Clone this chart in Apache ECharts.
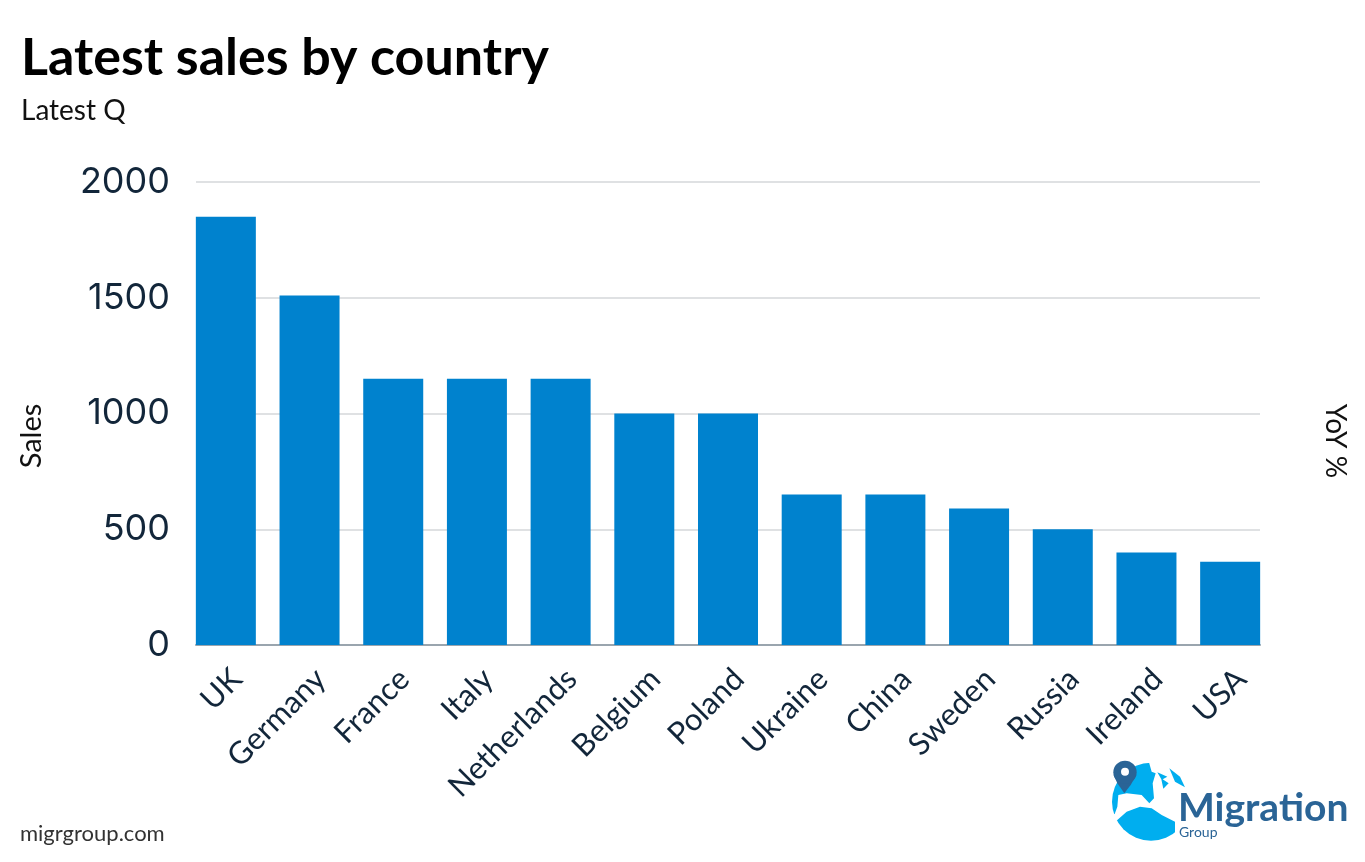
<!DOCTYPE html>
<html>
<head>
    <meta charset="utf-8">
    <title>Latest sales by country</title>
    <script src="https://cdn.jsdelivr.net/npm/echarts@6/dist/echarts.min.js"></script>
    <style>
        html, body { margin: 0; padding: 0; background: #fff; }
        #main { width: 1365px; height: 862px; }
    </style>
</head>
<body>
<div id="main"></div>
<script type="text/javascript">
    var countries = ['UK', 'Germany', 'France', 'Italy', 'Netherlands', 'Belgium', 'Poland', 'Ukraine', 'China', 'Sweden', 'Russia', 'Ireland', 'USA'];
    var sales = [1850, 1510, 1150, 1150, 1150, 1000, 1000, 650, 650, 590, 500, 400, 360];
    var salesTicks = { min: 0, max: 2000, interval: 500 };

    var labelFont = 'Lato';
    var inkColor = '#12263a';
    var logoDark = '#2a6496';
    var logoLight = '#00aeef';

    // logo outlines were traced on a 3x crop whose corner is at (1080,740)
    function logoPts(list) {
        return list.map(function (p) { return [1080 + p[0] / 3, 740 + p[1] / 3]; });
    }
    function logoPoly(list, color, smooth) {
        return { type: 'polygon', shape: { points: logoPts(list), smooth: smooth || 0 }, style: { fill: color } };
    }

    var myChart = echarts.init(document.getElementById('main'));
    myChart.setOption({
        animation: false,
        backgroundColor: '#fff',
        title: [
            { text: 'Latest sales by country', left: 21, top: 32, padding: 0,
              textStyle: { fontFamily: labelFont, fontWeight: 'bold', fontSize: 52, color: '#000' } },
            { text: 'Latest Q', left: 21, top: 97, padding: 0,
              textStyle: { fontFamily: labelFont, fontWeight: 'normal', fontSize: 28, color: '#111' } },
            { text: 'migrgroup.com', left: 20, top: 823, padding: 0,
              textStyle: { fontFamily: labelFont, fontWeight: 'normal', fontSize: 22, color: '#333' } }
        ],
        // grid 0 holds the bars, wider than grid 1 so the first and last bar sit flush with the gridlines
        // grid 2 only carries the slanted country names, they sit a bit right of the bar centres
        grid: [
            { left: 184, width: 1088, top: 182, height: 463 },
            { left: 196, width: 1064, top: 182, height: 463 },
            { left: 195, width: 1088, top: 182, height: 463 }
        ],
        xAxis: [
            {
                type: 'category', gridIndex: 0, data: countries,
                axisLine: { show: false }, axisTick: { show: false }, axisLabel: { show: false }
            },
            {
                type: 'category', gridIndex: 1, data: countries,
                axisLine: { lineStyle: { color: '#9aa5ae', width: 2 } },
                axisTick: { show: false }, axisLabel: { show: false }
            },
            {
                type: 'category', gridIndex: 2, data: countries,
                axisLine: { show: false }, axisTick: { show: false },
                axisLabel: { interval: 0, rotate: 45, margin: 29, fontFamily: labelFont, fontSize: 31, color: inkColor }
            }
        ],
        yAxis: [
            {
                type: 'value', gridIndex: 0, min: salesTicks.min, max: salesTicks.max, interval: salesTicks.interval,
                show: false
            },
            {
                type: 'value', gridIndex: 1, min: salesTicks.min, max: salesTicks.max, interval: salesTicks.interval,
                axisLine: { show: false }, axisTick: { show: false },
                axisLabel: {
                    margin: 26, fontFamily: 'Inter', fontSize: 36, color: inkColor,
                    formatter: function (value) { return String(value); }
                },
                splitLine: { lineStyle: { color: '#dfe1e3', width: 2 } }
            },
            {
                type: 'value', gridIndex: 2, min: salesTicks.min, max: salesTicks.max, interval: salesTicks.interval,
                show: false
            }
        ],
        series: [{
            name: 'Sales',
            type: 'bar',
            xAxisIndex: 0,
            yAxisIndex: 0,
            z: 3,
            barWidth: 60,
            itemStyle: { color: '#0082ce' },
            data: sales
        }],
        graphic: [
            { type: 'text', x: 32, y: 436, rotation: Math.PI / 2,
              style: { text: 'Sales', fontFamily: labelFont, fontSize: 29, fill: '#111', align: 'center', verticalAlign: 'middle' } },
            { type: 'text', x: 1335, y: 441, rotation: -Math.PI / 2,
              style: { text: 'YoY %', fontFamily: labelFont, fontSize: 28, fill: '#111', align: 'center', verticalAlign: 'middle' } },
            // logo: globe, white cut between the land masses, islands, pin and wordmark
            { type: 'circle', shape: { cx: 1080 + 213 / 3, cy: 740 + 185 / 3, r: 117 / 3 }, style: { fill: logoLight } },
            logoPoly([[205, 60], [215, 95], [227, 100], [218, 130], [222, 175], [208, 190], [185, 165], [140, 160], [115, 165], [112, 200], [104, 222], [90, 225], [90, 240], [112, 240], [140, 215], [180, 200], [215, 205], [245, 225], [285, 245], [285, 310], [350, 310], [350, 60]], '#fff'),
            logoPoly([[232, 97], [262, 110], [248, 118], [266, 130], [250, 146], [244, 118]], logoLight),
            logoPoly([[268, 85], [300, 110], [315, 142], [285, 125]], logoLight),
            logoPoly([[101, 105], [112, 130], [133, 160], [152, 135], [169, 105], [135, 85]], logoDark),
            { type: 'circle', shape: { cx: 1080 + 135 / 3, cy: 740 + 97 / 3, r: 35 / 3 }, style: { fill: logoDark } },
            { type: 'circle', shape: { cx: 1080 + 135 / 3, cy: 740 + 95 / 3, r: 4 }, style: { fill: '#fff' } },
            { type: 'text', x: 1178, y: 828,
              style: { text: 'Migration', fontFamily: labelFont, fontWeight: 'bold', fontSize: 39, fill: logoDark, align: 'left', verticalAlign: 'bottom' } },
            { type: 'text', x: 1179, y: 839,
              style: { text: 'Group', fontFamily: labelFont, fontSize: 14, fill: logoDark, align: 'left', verticalAlign: 'bottom' } }
        ]
    });
</script>
</body>
</html>
